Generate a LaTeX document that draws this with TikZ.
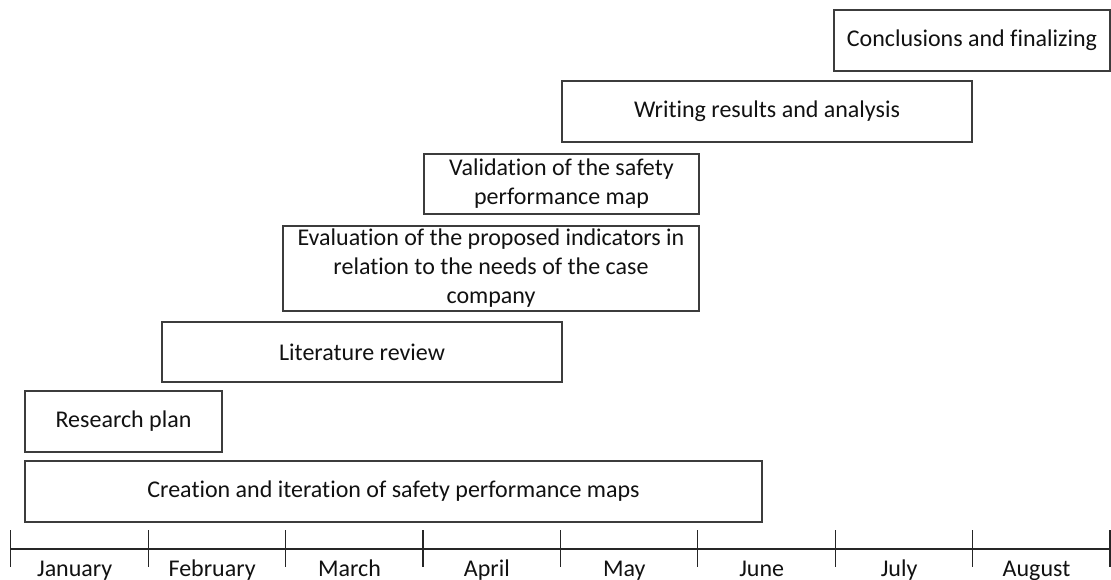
\documentclass[tikz,border=0pt]{standalone}
\usepackage{fontspec}
\setmainfont[Ligatures={NoCommon}]{Carlito}
\definecolor{boxline}{HTML}{3C3C3C}
\definecolor{ink}{HTML}{111111}
\begin{document}
\begin{tikzpicture}[x=1pt,y=-1pt,
  task/.style={draw=boxline, line width=1.3pt, inner sep=0pt, align=center,
    text=ink, font=\fontsize{24}{29}\selectfont},
  month/.style={anchor=base, inner sep=0pt, text=ink, font=\fontsize{24}{29}\selectfont},
  axisline/.style={draw=black!85, line width=1.2pt}]
\useasboundingbox (0,0) rectangle (1111,580);

% task bars
\node[task, minimum width=276pt, minimum height=61pt] (conc) at (972,40.5) {Conclusions and finalizing};
\node[task, minimum width=410pt, minimum height=61pt] (writ) at (767,111.5) {Writing results and analysis};
\node[task, minimum width=275pt, minimum height=60pt] (vali) at (561.5,184) {Validation of the safety\\performance map};
\node[task, minimum width=416pt, minimum height=85pt] (eval) at (491,268.5) {Evaluation of the proposed indicators in\\relation to the needs of the case\\company};
\node[task, minimum width=400pt, minimum height=60pt] (lit) at (362,352) {Literature review};
\node[task, minimum width=197pt, minimum height=61pt] (res) at (123.5,421.5) {Research plan};
\node[task, minimum width=737pt, minimum height=61pt] (crea) at (393.5,491.5) {Creation and iteration of safety performance maps};

% time axis with month ticks
\foreach \i in {0,...,8} {
  \coordinate (t\i) at ({10.7+137.4*\i},549);
  \coordinate (t\i top) at ({10.7+137.4*\i},530);
  \coordinate (t\i bot) at ({10.7+137.4*\i},567);
}
\draw[axisline] (t0) -- (t8);
\foreach \i in {0,...,8} {
  \draw[axisline] (t\i top) -- (t\i bot);
}
\foreach \m [count=\i from 0] in {January,February,March,April,May,June,July,August} {
  \node[month] (m\i) at ({10.7+137.4*\i+64},576.5) {\m};
}
\end{tikzpicture}
\end{document}
